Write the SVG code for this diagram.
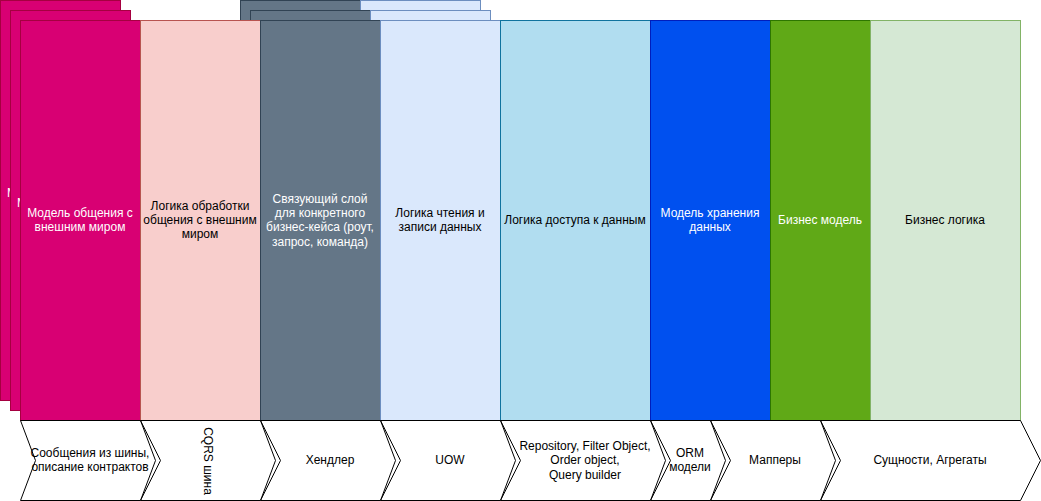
<svg xmlns="http://www.w3.org/2000/svg" width="1041" height="501" viewBox="0 0 1041 501">
<style>
text{font-family:"Liberation Sans",Arial,Helvetica,sans-serif;font-size:12px;text-anchor:middle;fill:#000}
.w{fill:#fff}
.s{text-anchor:start}
.pk{fill:#d80073;stroke:#a50040}
.lp{fill:#f8cecc;stroke:#b85450}
.gr{fill:#647687;stroke:#314354}
.lb{fill:#dae8fc;stroke:#6c8ebf}
.cy{fill:#b1ddf0;stroke:#10739e}
.bl{fill:#0050ef;stroke:#001dbc}
.gn{fill:#60a917;stroke:#2d7600}
.lg{fill:#d5e8d4;stroke:#82b366}
.st{fill:none;stroke:#000;stroke-width:1}
</style>
<rect width="1041" height="501" fill="#fff"/>
<g id="layers-back">
  <g id="pink-back">
    <rect class="pk" x="0.5" y="0.5" width="120" height="400"/>
    <text class="w s" x="7" y="197">М</text>
  </g>
  <g id="pink-mid">
    <rect class="pk" x="10.5" y="10.5" width="120" height="400"/>
    <text class="w s" x="17" y="207">М</text>
  </g>
  <g id="gray-back"><rect class="gr" x="240.5" y="0.5" width="120" height="400"/></g>
  <g id="blue-back"><rect class="lb" x="360.5" y="0.5" width="120" height="400"/></g>
  <g id="gray-mid"><rect class="gr" x="250.5" y="10.5" width="120" height="400"/></g>
  <g id="blue-mid"><rect class="lb" x="370.5" y="10.5" width="120" height="400"/></g>
</g>
<g id="col-external-model">
  <rect class="pk" x="20.5" y="20.5" width="120" height="400"/>
  <text class="w" x="80" y="217">Модель общения с</text>
  <text class="w" x="80" y="231">внешним миром</text>
</g>
<g id="col-external-logic">
  <rect class="lp" x="140.5" y="20.5" width="120" height="400"/>
  <text x="200" y="210">Логика обработки</text>
  <text x="200" y="224">общения с внешним</text>
  <text x="200" y="238">миром</text>
</g>
<g id="col-binding">
  <rect class="gr" x="260.5" y="20.5" width="120" height="400"/>
  <text class="w" x="320" y="203">Связующий слой</text>
  <text class="w" x="320" y="217">для конкретного</text>
  <text class="w" x="320" y="231">бизнес-кейса (роут,</text>
  <text class="w" x="320" y="246">запрос, команда)</text>
</g>
<g id="col-rw-logic">
  <rect class="lb" x="380.5" y="20.5" width="120" height="400"/>
  <text x="440" y="217">Логика чтения и</text>
  <text x="440" y="231">записи данных</text>
</g>
<g id="col-data-access">
  <rect class="cy" x="500.5" y="20.5" width="150" height="400"/>
  <text x="575" y="224">Логика доступа к данным</text>
</g>
<g id="col-storage-model">
  <rect class="bl" x="650.5" y="20.5" width="120" height="400"/>
  <text class="w" x="710" y="217">Модель хранения</text>
  <text class="w" x="710" y="231">данных</text>
</g>
<g id="col-business-model">
  <rect class="gn" x="770.5" y="20.5" width="100" height="400"/>
  <text class="w" x="820" y="224">Бизнес модель</text>
</g>
<g id="col-business-logic">
  <rect class="lg" x="870.5" y="20.5" width="150" height="400"/>
  <text x="945" y="224">Бизнес логика</text>
</g>
<g id="connectors">
  <g id="step-1">
    <polygon class="st" points="20.5,420.5 140.5,420.5 160.5,460.5 140.5,500.5 20.5,500.5 35.5,460.5"/>
    <text x="90" y="457">Сообщения из шины,</text>
    <text x="90" y="471">описание контрактов</text>
  </g>
  <g id="step-2">
    <polygon class="st" points="140.5,420.5 260.5,420.5 280.5,460.5 260.5,500.5 140.5,500.5 155.5,460.5"/>
    <text transform="translate(207.5,461) rotate(90)" x="0" y="4">CQRS шина</text>
  </g>
  <g id="step-3">
    <polygon class="st" points="260.5,420.5 380.5,420.5 400.5,460.5 380.5,500.5 260.5,500.5 275.5,460.5"/>
    <text x="330" y="464">Хендлер</text>
  </g>
  <g id="step-4">
    <polygon class="st" points="380.5,420.5 500.5,420.5 520.5,460.5 500.5,500.5 380.5,500.5 395.5,460.5"/>
    <text x="450" y="464">UOW</text>
  </g>
  <g id="step-5">
    <polygon class="st" points="500.5,420.5 650.5,420.5 670.5,460.5 650.5,500.5 500.5,500.5 515.5,460.5"/>
    <text x="585" y="450">Repository, Filter Object,</text>
    <text x="585" y="464">Order object,</text>
    <text x="585" y="479">Query builder</text>
  </g>
  <g id="step-6">
    <polygon class="st" points="650.5,420.5 710.5,420.5 730.5,460.5 710.5,500.5 650.5,500.5 665.5,460.5"/>
    <text x="690" y="457">ORM</text>
    <text x="690" y="471">модели</text>
  </g>
  <g id="step-7">
    <polygon class="st" points="710.5,420.5 820.5,420.5 840.5,460.5 820.5,500.5 710.5,500.5 725.5,460.5"/>
    <text x="775" y="464">Мапперы</text>
  </g>
  <g id="step-8">
    <polygon class="st" points="820.5,420.5 1020.5,420.5 1040.5,460.5 1020.5,500.5 820.5,500.5 835.5,460.5"/>
    <text x="930" y="464">Сущности, Агрегаты</text>
  </g>
</g>
</svg>
